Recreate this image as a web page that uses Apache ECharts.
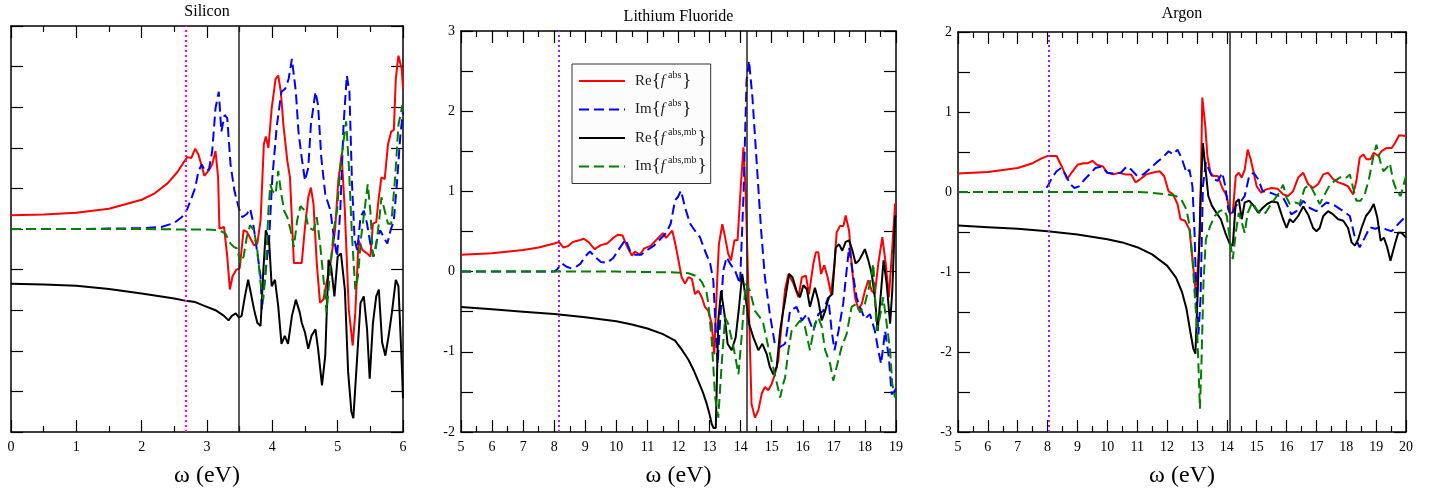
<!DOCTYPE html>
<html><head><meta charset="utf-8">
<script src="https://cdn.jsdelivr.net/npm/echarts@6/dist/echarts.min.js"></script>
<style>html,body{margin:0;padding:0;background:#fff}#c{width:1432px;height:493px}</style>
</head><body><div id="c"></div>
<script>
// ---------------- data ----------------
const panelTitles = ['Silicon', 'Lithium Fluoride', 'Argon'];
const xRanges = [[0, 6], [5, 19], [5, 20]];
const yRanges = [[-5, 5], [-2, 3], [-3, 2]];
const yIntervals = [1, 0.5, 0.5];
const dottedLines = [2.68, 8.14, 8.04];
const edgeLines = [3.48, 14.2, 14.1];
const seriesNames = ['re', 'im', 'reMb', 'imMb'];

const siRe = [[0,0.34],[0.5,0.36],[1,0.4],[1.5,0.5],[2,0.72],[2.2,0.88],[2.4,1.13],[2.55,1.41],[2.65,1.66],[2.7,1.77],[2.76,1.75],[2.82,1.98],[2.87,1.83],[2.96,1.31],[3.02,1.43],[3.08,1.59],[3.13,1.92],[3.17,1.27],[3.19,0.01],[3.26,0.05],[3.31,-0.68],[3.35,-1.49],[3.39,-1.17],[3.45,-1.0],[3.5,-0.97],[3.56,-0.03],[3.61,-0.07],[3.65,-0.19],[3.72,-0.4],[3.77,-0.36],[3.82,0.21],[3.87,2.08],[3.9,2.28],[3.94,2.0],[3.99,2.97],[4.05,3.7],[4.09,3.78],[4.13,3.38],[4.17,2.56],[4.23,1.67],[4.27,1.27],[4.33,-0.84],[4.4,-0.84],[4.45,-0.84],[4.5,0.05],[4.55,0.78],[4.59,1.02],[4.63,0.62],[4.68,-0.84],[4.73,-1.82],[4.78,-1.74],[4.83,-1.33],[4.89,-0.84],[4.96,-0.03],[5.01,1.19],[5.06,1.83],[5.11,0.45],[5.17,-1.98],[5.23,-2.87],[5.27,-2.06],[5.32,-0.28],[5.38,-0.52],[5.45,-0.6],[5.5,-0.68],[5.54,0.13],[5.59,0.17],[5.63,0.78],[5.67,1.27],[5.72,1.23],[5.77,2.08],[5.82,2.4],[5.86,2.44],[5.89,3.7],[5.93,4.27],[5.98,3.94],[6.0,3.46]];
const siIm = [[0,0],[1,0],[1.5,0.01],[2,0.02],[2.3,0.05],[2.5,0.15],[2.62,0.3],[2.7,0.5],[2.76,0.75],[2.82,1.02],[2.87,1.43],[2.92,1.59],[2.97,1.43],[3.03,1.47],[3.08,1.92],[3.13,2.97],[3.18,3.38],[3.22,2.4],[3.27,2.81],[3.31,2.73],[3.36,1.59],[3.42,0.94],[3.49,0.5],[3.54,0.29],[3.61,0.37],[3.66,0.5],[3.7,0.21],[3.75,-0.36],[3.82,-1.17],[3.84,-1.98],[3.9,-1.0],[3.95,-0.28],[4.0,1.27],[4.07,2.56],[4.14,3.38],[4.2,3.46],[4.25,3.7],[4.3,4.19],[4.36,3.38],[4.4,2.4],[4.45,1.75],[4.5,1.19],[4.55,1.51],[4.59,2.56],[4.66,3.38],[4.7,3.05],[4.75,1.75],[4.81,0.86],[4.89,0.45],[4.94,-0.19],[4.99,-0.68],[5.04,0.45],[5.09,2.56],[5.14,3.78],[5.18,3.38],[5.22,1.1],[5.26,-0.28],[5.3,-0.52],[5.35,0.29],[5.4,0.45],[5.45,0.13],[5.5,-0.36],[5.55,-0.68],[5.6,-0.28],[5.65,-0.03],[5.7,-0.19],[5.76,-0.36],[5.81,-0.03],[5.86,0.21],[5.91,1.19],[5.96,2.32],[6.0,2.89]];
const siReMb = [[0,-1.35],[0.5,-1.37],[1,-1.4],[1.5,-1.48],[2,-1.59],[2.3,-1.66],[2.5,-1.71],[2.68,-1.77],[2.82,-1.8],[2.97,-1.9],[3.13,-2.0],[3.26,-2.14],[3.33,-2.25],[3.38,-2.14],[3.44,-2.08],[3.49,-2.18],[3.53,-2.14],[3.58,-1.66],[3.63,-1.25],[3.66,-1.49],[3.72,-1.98],[3.77,-2.31],[3.82,-2.39],[3.86,-1.09],[3.9,-0.03],[3.95,-0.28],[3.99,-1.41],[4.04,-1.25],[4.09,-1.9],[4.14,-2.83],[4.19,-2.63],[4.24,-2.83],[4.3,-2.14],[4.36,-1.74],[4.42,-2.06],[4.45,-2.31],[4.5,-2.55],[4.55,-2.95],[4.6,-2.63],[4.66,-2.47],[4.7,-2.95],[4.76,-3.85],[4.81,-3.12],[4.86,-0.76],[4.9,-0.93],[4.95,-1.66],[5.0,-0.68],[5.05,-0.6],[5.11,-1.49],[5.16,-3.52],[5.21,-4.5],[5.24,-4.66],[5.3,-3.12],[5.35,-1.82],[5.4,-1.66],[5.45,-2.47],[5.49,-3.69],[5.54,-2.31],[5.59,-1.66],[5.63,-1.49],[5.68,-2.79],[5.73,-3.12],[5.78,-2.63],[5.83,-2.06],[5.89,-1.25],[5.93,-1.41],[5.98,-3.28],[6.0,-4.17]];
const siImMb = [[0,0],[1,0],[2,0],[2.5,-0.01],[3.0,-0.01],[3.18,-0.03],[3.28,-0.11],[3.36,-0.36],[3.41,-0.44],[3.46,-0.48],[3.51,-0.84],[3.56,-0.68],[3.61,-0.19],[3.66,0.09],[3.72,-0.03],[3.77,-0.52],[3.82,-1.33],[3.86,-1.74],[3.9,-1.0],[3.94,0.45],[3.97,1.1],[4.0,0.94],[4.05,0.86],[4.09,1.43],[4.13,0.94],[4.18,0.45],[4.23,0.29],[4.28,-0.03],[4.33,-0.44],[4.38,0.21],[4.43,0.56],[4.5,0.45],[4.55,0.05],[4.63,-0.03],[4.68,0.29],[4.73,-0.36],[4.78,-1.17],[4.83,-2.06],[4.89,-0.93],[4.94,-0.03],[4.99,0.45],[5.04,1.51],[5.09,2.16],[5.13,2.65],[5.17,1.59],[5.22,-0.19],[5.27,-1.49],[5.31,-1.17],[5.36,-0.19],[5.41,0.45],[5.46,1.1],[5.5,0.45],[5.54,-0.68],[5.58,-0.52],[5.63,0.13],[5.67,0.78],[5.72,0.45],[5.77,0.13],[5.82,0.13],[5.88,1.27],[5.93,2.56],[5.99,3.05]];

const lifRe = [[5,0.21],[6,0.23],[7,0.27],[7.5,0.3],[8,0.35],[8.15,0.37],[8.3,0.3],[8.45,0.32],[8.6,0.37],[8.8,0.39],[8.95,0.41],[9.1,0.37],[9.3,0.28],[9.5,0.33],[9.7,0.35],[9.9,0.42],[10.05,0.46],[10.2,0.45],[10.35,0.31],[10.5,0.2],[10.6,0.25],[10.75,0.21],[10.9,0.29],[11.1,0.32],[11.3,0.4],[11.5,0.48],[11.6,0.42],[11.8,0.51],[11.9,0.34],[12.0,0.14],[12.1,-0.07],[12.21,-0.15],[12.32,-0.07],[12.43,-0.09],[12.53,-0.28],[12.64,-0.24],[12.75,-0.32],[12.85,-0.44],[12.96,-0.49],[13.07,-0.65],[13.15,-1.03],[13.23,-0.24],[13.3,0.34],[13.41,0.59],[13.5,0.43],[13.6,0.22],[13.69,0.14],[13.8,0.39],[13.9,0.39],[14.01,1.09],[14.09,1.55],[14.16,1.01],[14.25,-0.24],[14.35,-1.65],[14.46,-1.82],[14.57,-1.73],[14.68,-1.52],[14.78,-1.44],[14.89,-1.48],[15.0,-1.4],[15.1,-1.28],[15.21,-1.11],[15.32,-0.65],[15.43,-0.22],[15.54,-0.03],[15.7,-0.15],[15.86,-0.32],[15.97,-0.07],[16.1,-0.05],[16.2,-0.28],[16.34,0.1],[16.42,0.24],[16.5,0.24],[16.59,-0.03],[16.69,0.08],[16.8,-0.07],[16.91,-0.28],[17.02,0.1],[17.09,0.49],[17.2,0.57],[17.31,0.57],[17.38,0.7],[17.49,0.51],[17.57,0.1],[17.68,-0.32],[17.79,-0.47],[17.9,-0.4],[18.0,-0.24],[18.11,-0.11],[18.22,-0.24],[18.32,-0.28],[18.43,0.1],[18.56,0.43],[18.67,0.1],[18.77,-0.32],[18.86,0.18],[18.97,0.84],[19,0.85]];
const lifIm = [[5,0],[8,0],[8.1,0.03],[8.25,0.1],[8.4,0.06],[8.55,0.04],[8.7,0.06],[8.85,0.1],[9.0,0.19],[9.15,0.25],[9.3,0.19],[9.5,0.12],[9.7,0.11],[9.9,0.17],[10.1,0.29],[10.3,0.4],[10.45,0.25],[10.6,0.21],[10.8,0.21],[11.0,0.27],[11.2,0.32],[11.4,0.4],[11.6,0.48],[11.75,0.6],[11.89,0.89],[11.98,0.93],[12.08,1.01],[12.21,0.8],[12.37,0.6],[12.53,0.51],[12.69,0.43],[12.85,0.26],[13.02,0.1],[13.12,-0.11],[13.2,-0.74],[13.26,-1.15],[13.34,-0.61],[13.44,0.01],[13.55,0.18],[13.66,0.1],[13.82,0.01],[13.98,-0.15],[14.09,0.93],[14.19,2.38],[14.27,2.63],[14.38,2.17],[14.52,1.34],[14.66,0.51],[14.78,-0.07],[14.94,-0.53],[15.1,-0.9],[15.27,-0.94],[15.43,-0.9],[15.59,-0.49],[15.8,-0.44],[15.97,-0.61],[16.13,-0.53],[16.34,-0.74],[16.5,-0.53],[16.66,-0.49],[16.82,-0.32],[16.93,-0.74],[17.02,-0.98],[17.15,-0.74],[17.3,-0.4],[17.41,0.01],[17.49,0.3],[17.63,-0.07],[17.73,-0.32],[17.84,-0.44],[18.0,-0.59],[18.16,-0.53],[18.32,-0.74],[18.43,-0.98],[18.52,-1.15],[18.65,-0.74],[18.77,-1.07],[18.86,-1.53],[18.97,-1.48],[19,-1.45]];
const lifReMb = [[5,-0.44],[6,-0.47],[7,-0.5],[8,-0.53],[9,-0.57],[10,-0.62],[10.5,-0.66],[11,-0.71],[11.5,-0.78],[11.89,-0.86],[12.1,-0.97],[12.32,-1.1],[12.5,-1.24],[12.64,-1.37],[12.78,-1.5],[12.91,-1.65],[13.0,-1.78],[13.07,-1.9],[13.13,-1.95],[13.2,-1.95],[13.28,-0.61],[13.37,-0.24],[13.48,-0.53],[13.58,-0.9],[13.71,-0.98],[13.84,-0.82],[13.95,-0.44],[14.05,-0.03],[14.16,-0.32],[14.27,-0.65],[14.41,-0.82],[14.57,-0.98],[14.7,-0.9],[14.84,-1.03],[14.94,-1.19],[15.05,-1.28],[15.16,-1.19],[15.27,-0.74],[15.37,-0.49],[15.43,-0.36],[15.56,-0.03],[15.67,-0.07],[15.8,-0.24],[15.91,-0.32],[16.02,-0.17],[16.13,-0.22],[16.23,-0.44],[16.39,-0.2],[16.5,-0.36],[16.61,-0.61],[16.72,-0.49],[16.84,-0.32],[16.95,-0.28],[17.06,0.3],[17.17,0.34],[17.27,0.26],[17.38,0.37],[17.49,0.39],[17.6,0.26],[17.7,0.1],[17.81,0.14],[17.92,0.22],[18.0,0.28],[18.11,0.14],[18.22,-0.03],[18.32,-0.32],[18.41,-0.74],[18.52,-0.24],[18.6,0.14],[18.7,-0.15],[18.81,-0.65],[18.88,-0.24],[18.97,0.68],[19,0.7]];
const lifImMb = [[5,0],[8,0],[10,0],[11,-0.005],[11.89,-0.01],[12.32,-0.02],[12.6,-0.06],[12.75,-0.13],[12.9,-0.25],[12.96,-0.4],[13.07,-0.86],[13.18,-1.57],[13.28,-1.82],[13.39,-1.15],[13.5,-0.57],[13.6,-0.65],[13.77,-0.94],[13.93,-1.28],[14.03,-0.82],[14.16,-0.15],[14.3,-0.24],[14.46,-0.49],[14.62,-0.57],[14.73,-0.65],[14.89,-0.94],[15.1,-1.28],[15.27,-1.57],[15.37,-1.4],[15.43,-1.32],[15.54,-0.98],[15.64,-0.74],[15.75,-0.69],[15.91,-0.61],[16.07,-0.69],[16.23,-0.98],[16.39,-0.65],[16.5,-0.57],[16.61,-0.69],[16.72,-0.98],[16.88,-1.15],[16.98,-1.36],[17.09,-1.19],[17.25,-0.94],[17.41,-0.78],[17.57,-0.44],[17.73,-0.4],[17.84,-0.51],[18.0,-0.4],[18.16,-0.15],[18.27,0.1],[18.38,-0.74],[18.48,-0.57],[18.59,-0.32],[18.7,-0.65],[18.81,-0.98],[18.88,-1.4],[18.97,-1.57],[19,-1.5]];

const arRe = [[5,0.23],[6,0.25],[7,0.3],[7.5,0.36],[7.8,0.42],[8.0,0.45],[8.3,0.45],[8.5,0.3],[8.65,0.16],[8.8,0.24],[9.0,0.34],[9.2,0.36],[9.35,0.36],[9.5,0.39],[9.65,0.34],[9.85,0.32],[10.0,0.24],[10.2,0.22],[10.4,0.24],[10.6,0.22],[10.8,0.22],[10.95,0.12],[11.1,0.16],[11.3,0.22],[11.5,0.24],[11.75,0.26],[11.9,0.2],[12.05,0.01],[12.2,-0.03],[12.35,-0.15],[12.45,-0.34],[12.6,-0.36],[12.75,-0.47],[12.85,-0.84],[12.95,-1.21],[13.02,-1.0],[13.1,-0.51],[13.18,1.18],[13.28,0.82],[13.35,0.45],[13.45,0.24],[13.55,0.2],[13.7,0.2],[13.85,0.05],[14.0,-0.05],[14.1,-0.26],[14.2,-0.26],[14.3,0.2],[14.4,0.24],[14.5,0.18],[14.6,0.28],[14.7,0.53],[14.8,0.41],[14.9,0.24],[15.0,0.07],[15.15,-0.01],[15.3,0.03],[15.5,0.05],[15.7,0.04],[15.885,-0.03],[16.05,-0.05],[16.22,0.01],[16.39,0.18],[16.56,0.24],[16.72,0.1],[16.89,0.05],[17.06,0.1],[17.23,0.22],[17.39,0.24],[17.56,0.16],[17.73,0.12],[17.9,0.1],[18.06,0.07],[18.23,-0.03],[18.34,0.14],[18.45,0.43],[18.57,0.47],[18.68,0.41],[18.81,0.41],[18.92,0.49],[19.07,0.45],[19.18,0.51],[19.35,0.55],[19.52,0.55],[19.63,0.61],[19.77,0.71],[20,0.7]];
const arIm = [[5,0],[7.8,0],[8.0,0.07],[8.15,0.18],[8.3,0.26],[8.45,0.3],[8.6,0.22],[8.75,0.1],[8.9,0.05],[9.05,0.07],[9.2,0.14],[9.4,0.22],[9.6,0.3],[9.8,0.32],[10.0,0.24],[10.2,0.23],[10.45,0.24],[10.65,0.32],[10.8,0.28],[11.0,0.2],[11.2,0.22],[11.45,0.3],[11.65,0.37],[11.85,0.43],[12.05,0.51],[12.2,0.47],[12.35,0.53],[12.5,0.41],[12.65,0.24],[12.75,0.28],[12.85,0.07],[12.92,-0.51],[12.98,-1.34],[13.05,-1.78],[13.12,-1.34],[13.2,0.07],[13.3,0.37],[13.4,0.28],[13.55,0.16],[13.7,0.14],[13.85,0.24],[13.95,0.07],[14.05,-0.22],[14.15,-0.3],[14.3,-0.17],[14.45,-0.13],[14.6,-0.05],[14.75,0.2],[14.9,0.24],[15.05,0.16],[15.2,0.01],[15.4,0],[15.6,-0.03],[15.885,-0.07],[16.0,-0.15],[16.16,-0.28],[16.33,-0.24],[16.56,-0.11],[16.78,-0.2],[17.0,-0.24],[17.34,-0.13],[17.62,-0.17],[17.9,-0.24],[18.12,-0.3],[18.29,-0.57],[18.45,-0.69],[18.62,-0.57],[18.79,-0.44],[18.96,-0.46],[19.18,-0.44],[19.35,-0.47],[19.52,-0.49],[19.74,-0.4],[20,-0.3]];
const arReMb = [[5,-0.42],[6,-0.44],[7,-0.46],[8,-0.49],[9,-0.53],[10,-0.59],[10.5,-0.63],[11,-0.69],[11.5,-0.78],[12,-0.92],[12.3,-1.07],[12.5,-1.25],[12.65,-1.46],[12.78,-1.75],[12.88,-1.96],[12.95,-2.02],[13.05,-1.0],[13.12,-0.09],[13.2,0.61],[13.28,0.32],[13.38,-0.05],[13.5,-0.17],[13.65,-0.26],[13.8,-0.34],[13.95,-0.51],[14.1,-0.65],[14.2,-0.67],[14.3,-0.13],[14.4,-0.09],[14.5,-0.34],[14.6,-0.13],[14.75,-0.11],[14.9,-0.17],[15.05,-0.26],[15.2,-0.2],[15.35,-0.15],[15.5,-0.12],[15.7,-0.13],[15.885,-0.34],[16.0,-0.45],[16.11,-0.34],[16.22,-0.38],[16.39,-0.3],[16.56,-0.18],[16.72,-0.28],[16.89,-0.45],[17.0,-0.49],[17.11,-0.45],[17.23,-0.3],[17.39,-0.24],[17.56,-0.28],[17.73,-0.34],[17.9,-0.36],[18.06,-0.45],[18.18,-0.63],[18.29,-0.67],[18.4,-0.59],[18.51,-0.45],[18.66,-0.3],[18.79,-0.24],[18.92,-0.15],[19.04,-0.32],[19.15,-0.61],[19.26,-0.57],[19.37,-0.69],[19.48,-0.86],[19.63,-0.65],[19.74,-0.51],[19.85,-0.51],[20,-0.57]];
const arImMb = [[5,0],[8,0],[11,0],[11.5,-0.01],[12.0,-0.03],[12.3,-0.05],[12.5,-0.11],[12.65,-0.22],[12.75,-0.42],[12.85,-0.84],[12.92,-1.25],[13.0,-1.67],[13.05,-2.16],[13.1,-2.71],[13.15,-2.16],[13.22,-1.13],[13.3,-0.59],[13.45,-0.42],[13.6,-0.3],[13.75,-0.24],[13.9,-0.22],[14.0,-0.3],[14.1,-0.59],[14.2,-0.84],[14.3,-0.51],[14.4,-0.26],[14.5,-0.38],[14.6,-0.51],[14.7,-0.26],[14.85,-0.13],[15.0,-0.22],[15.15,-0.28],[15.3,-0.26],[15.45,-0.17],[15.6,-0.09],[15.75,-0.01],[15.885,0.09],[16.0,-0.07],[16.11,-0.15],[16.28,-0.13],[16.44,-0.15],[16.61,0.05],[16.78,0.09],[16.95,-0.03],[17.11,-0.15],[17.28,-0.03],[17.45,0.09],[17.62,0.14],[17.78,0.18],[17.9,0.2],[18.01,0.18],[18.12,0.22],[18.23,0.05],[18.34,-0.11],[18.48,-0.11],[18.62,-0.03],[18.77,0.18],[18.9,0.43],[19.01,0.59],[19.13,0.39],[19.24,0.26],[19.35,0.3],[19.46,0.36],[19.57,0.14],[19.69,0.01],[19.82,-0.05],[20,0.2]];

const panelData = [
  [siRe, siIm, siReMb, siImMb],
  [lifRe, lifIm, lifReMb, lifImMb],
  [arRe, arIm, arReMb, arImMb]
];

// ---------------- styling / layout ----------------
const F = "'Liberation Serif','DejaVu Serif','Times New Roman',serif";
const grids = [
  {left: 11, top: 26, width: 392, height: 411},
  {left: 461, top: 31, width: 435, height: 401},
  {left: 958, top: 32, width: 448, height: 402}
];
const titleTops = [4, 9, 6];
const showYLabels = [false, true, true];
const colors = ['#ff0000', '#0000ff', '#000000', '#008000'];
const dashed = [false, true, false, true];
const dotColors = ['#ff00ff', '#a020f0', '#a020f0'];

const frame = {show: true, onZero: false, lineStyle: {color: '#000', width: 1.5}};
const tickStyle = {color: '#000', width: 1.2};

const option = {
  animation: false,
  backgroundColor: '#fff',
  title: [], grid: [], xAxis: [], yAxis: [], series: [],
  legend: {
    left: 572, top: 64, orient: 'vertical',
    backgroundColor: '#fcfcfc', borderColor: '#333', borderWidth: 1, borderRadius: 0,
    padding: [6, 4, 6, 6], itemGap: 6.5, itemWidth: 46, itemHeight: 14,
    selectedMode: false,
    itemStyle: {opacity: 0, color: 'rgba(0,0,0,0)', borderWidth: 0},
    data: seriesNames,
    textStyle: {fontFamily: F, fontSize: 19, color: '#222', padding: [0, 0, 0, 5], lineHeight: 22},
    formatter: function (n) {
      const sup = (n === 're' || n === 'im') ? 'abs' : 'abs,mb';
      const pre = (n === 're' || n === 'reMb') ? 'Re' : 'Im';
      return '{t|' + pre + '}{br|{}{i|f}{s|' + sup + '}}';
    }
  }
};
option.legend.textStyle.rich = {
  t: {fontFamily: F, fontSize: 15, color: '#222', lineHeight: 22},
  br: {fontFamily: F, fontSize: 19, color: '#222', lineHeight: 22},
  i: {fontFamily: F, fontSize: 15, fontStyle: 'italic', color: '#222', lineHeight: 22},
  s: {fontFamily: F, fontSize: 10, color: '#222', lineHeight: 14, verticalAlign: 'top', padding: [0, 1, 0, 3]}
};

for (let k = 0; k < 3; k++) {
  const g = grids[k];
  option.grid.push(Object.assign({containLabel: false}, g));
  option.title.push({
    text: panelTitles[k], left: g.left + g.width / 2, top: titleTops[k], textAlign: 'center', padding: 0,
    textStyle: {fontFamily: F, fontSize: 16, fontWeight: 'normal', color: '#000'}
  });
  const xr = xRanges[k], yr = yRanges[k];
  option.xAxis.push({
    type: 'value', gridIndex: k, min: xr[0], max: xr[1], interval: 1, position: 'bottom',
    axisLine: frame, splitLine: {show: false},
    axisTick: {inside: true, length: 12, lineStyle: tickStyle},
    minorTick: {show: true, splitNumber: 2, length: 6, lineStyle: tickStyle},
    axisLabel: {fontFamily: F, fontSize: 14, color: '#000', margin: 8},
    name: 'ω (eV)', nameLocation: 'middle', nameGap: 32,
    nameTextStyle: {fontFamily: F, fontSize: 24, color: '#000'}
  });
  option.xAxis.push({
    type: 'value', gridIndex: k, min: xr[0], max: xr[1], interval: 1, position: 'top',
    axisLine: frame, splitLine: {show: false},
    axisTick: {inside: true, length: 12, lineStyle: tickStyle},
    minorTick: {show: true, splitNumber: 2, length: 6, lineStyle: tickStyle},
    axisLabel: {show: false}
  });
  const yl = {
    show: showYLabels[k], fontFamily: F, fontSize: 14, color: '#000', margin: 6,
    formatter: v => (Math.abs(v - Math.round(v)) < 1e-9 ? String(Math.round(v)) : '')
  };
  option.yAxis.push({
    type: 'value', gridIndex: k, min: yr[0], max: yr[1], interval: yIntervals[k], position: 'left',
    axisLine: frame, splitLine: {show: false},
    axisTick: {inside: true, length: 12, lineStyle: tickStyle},
    axisLabel: yl
  });
  option.yAxis.push({
    type: 'value', gridIndex: k, min: yr[0], max: yr[1], interval: yIntervals[k], position: 'right',
    axisLine: frame, splitLine: {show: false},
    axisTick: {inside: true, length: 12, lineStyle: tickStyle},
    axisLabel: {show: false}
  });
  for (let s = 0; s < 4; s++) {
    const ser = {
      type: 'line', name: seriesNames[s], xAxisIndex: 2 * k, yAxisIndex: 2 * k,
      data: panelData[k][s], showSymbol: false, symbol: 'none', silent: true,
      lineStyle: {color: colors[s], width: 2, type: dashed[s] ? [10, 5] : 'solid'},
      itemStyle: {color: colors[s]},
      z: 2 + s
    };
    if (s === 0) {
      ser.markLine = {
        silent: true, symbol: ['none', 'none'], label: {show: false}, animation: false,
        data: [
          {xAxis: dottedLines[k], lineStyle: {color: dotColors[k], type: [2, 3], width: 2}},
          {xAxis: edgeLines[k], lineStyle: {color: '#222', type: 'solid', width: 1.5}}
        ]
      };
    }
    option.series.push(ser);
  }
}

const chart = echarts.init(document.getElementById('c'), null, {renderer: 'canvas'});
chart.setOption(option);
</script>
</body></html>
